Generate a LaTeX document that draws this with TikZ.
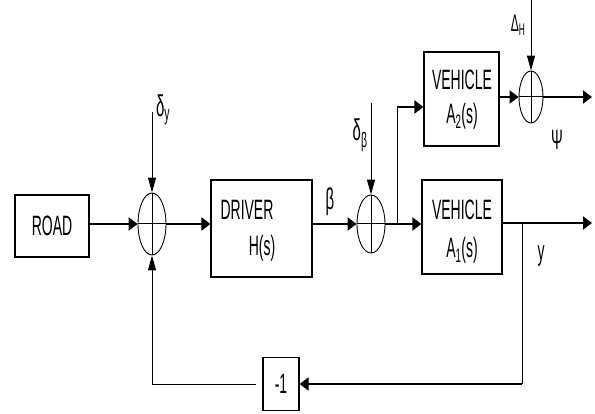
\documentclass[tikz,border=0pt]{standalone}
\usepackage{fontspec}
\setmainfont{Liberation Sans}
\usepackage{graphicx}
\usetikzlibrary{arrows.meta,shapes.geometric}
\newcommand\nrw[2]{\scalebox{0.5}[1]{\fontsize{#1}{#1}\selectfont #2}}
\begin{document}
\begin{tikzpicture}[x=1pt,y=-1pt,
  blk/.style={draw,line width=1.1pt,inner sep=0pt},
  sumj/.style={draw,ellipse,line width=0.9pt,inner sep=0pt},
  thk/.style={line width=2pt},
  thn/.style={line width=1pt},
  ha/.style={-{Triangle[length=9pt,width=13pt]}},
  va/.style={-{Triangle[length=15pt,width=8pt]}},
  lbl/.style={inner sep=0pt}]
\useasboundingbox (0,0) rectangle (595,414);
% blocks
\node[blk,minimum width=74pt,minimum height=62pt] (road) at (52,226) {\nrw{28}{ROAD}};
\node[blk,minimum width=101pt,minimum height=97pt] (drv) at (261.5,228.5) {};
\node[lbl] (drvt) at (247,210) {\nrw{28}{DRIVER}};
\node[lbl] (drvh) at (262,248) {\nrw{28}{H(s)}};
\node[blk,minimum width=80pt,minimum height=94pt] (a1) at (462,227) {};
\node[lbl] (a1t) at (462,210) {\nrw{28}{VEHICLE}};
\node[lbl] (a1s) at (462,250) {\nrw{28}{A\textsubscript{1}(s)}};
\node[blk,minimum width=75pt,minimum height=94pt] (a2) at (461.5,99) {};
\node[lbl] (a2t) at (462,80) {\nrw{28}{VEHICLE}};
\node[lbl] (a2s) at (462,116) {\nrw{28}{A\textsubscript{2}(s)}};
\node[blk,minimum width=36pt,minimum height=53pt] (m1) at (281,384) {\nrw{28}{-1}};
% summing junctions
\node[sumj,minimum width=28pt,minimum height=62pt] (s1) at (152,224) {};
\node[sumj,minimum width=28pt,minimum height=58pt] (s2) at (371,224) {};
\node[sumj,minimum width=24pt,minimum height=52pt] (s3) at (531,97) {};
\foreach \s in {s1,s2,s3}{
  \draw[thn] (\s.north) -- (\s.south) (\s.west) -- (\s.east);
}
% coordinates
\coordinate (br1) at (397,224);
\coordinate (b2) at (397,107);
\coordinate (o1) at (592,223);
\coordinate (o2) at (592,97);
\coordinate (br2) at (522,223);
\coordinate (fb) at (522,384);
\coordinate (fl) at (152,384);
\coordinate (dy) at (152,112);
\coordinate (db) at (371,103);
\coordinate (dh) at (531,0);
% forward path
\draw[thk,ha] (road.east |- s1.west) -- (s1.west);
\draw[thk,ha] (s1.east) -- (s1.east -| drv.west);
\draw[thk,ha] (s1.east -| drv.east) -- (s2.west);
\draw[thk,ha] (s2.east) -- (s2.east -| a1.west);
\draw[thn] (br1) -- (b2);
\draw[thk,ha] (b2) -- (b2 -| a2.west);
\draw[thk,ha] (a2.east |- s3.west) -- (s3.west);
\draw[thk,ha] (s3.east) -- (o2);
\draw[thk,ha] (a1.east |- o1) -- (o1);
% feedback
\draw[thn] (br2) -- (fb);
\draw[thk,ha] (fb) -- (m1.east);
\draw[thn,shorten <=6pt] (m1.west) -- (fl);
\draw[thn,va] (fl) -- (s1.south);
% disturbances
\draw[thn,va] (dy) -- (s1.north);
\draw[thn,va] (db) -- (s2.north);
\draw[thn,va] (dh) -- (s3.north);
% labels
\node[lbl] (ldy) at (163,110) {\nrw{30}{δ\textsubscript{y}}};
\node[lbl] (ldb) at (360,135) {\nrw{30}{δ\textsubscript{β}}};
\node[lbl] (ldh) at (518,25) {\nrw{24}{Δ\textsubscript{H}}};
\node[lbl] (lbeta) at (330,202) {\nrw{30}{β}};
\node[lbl] (lpsi) at (557,140) {\nrw{28}{Ψ}};
\node[lbl] (ly) at (541,256) {\nrw{28}{y}};
\end{tikzpicture}
\end{document}
